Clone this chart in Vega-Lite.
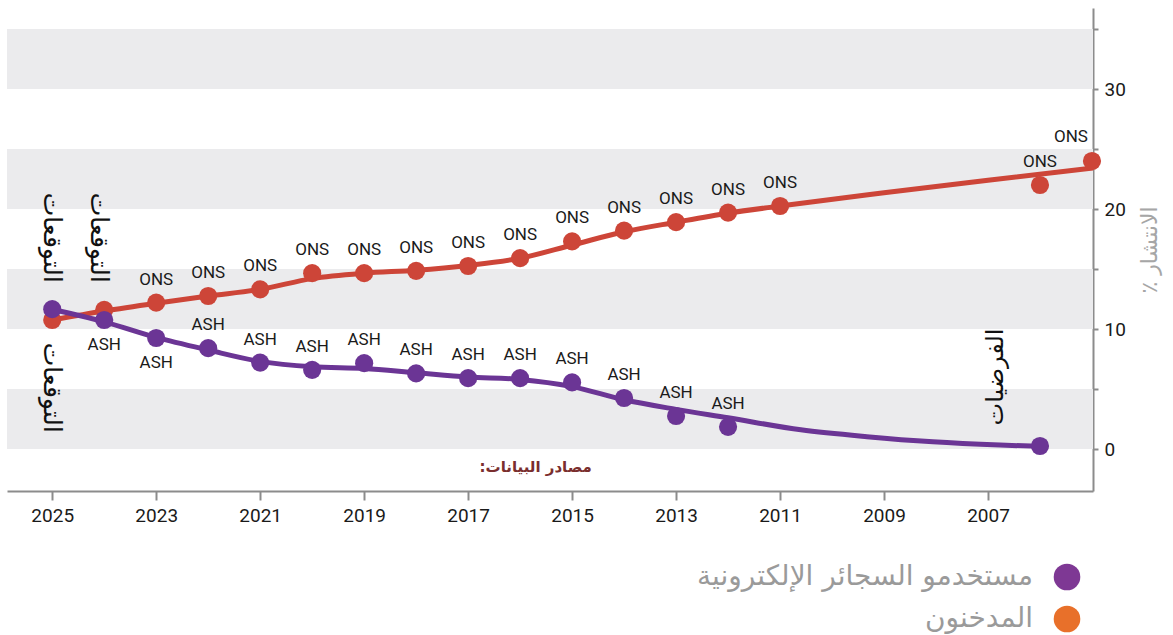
{
  "$schema": "https://vega.github.io/schema/vega-lite/v6.json",
  "width": 1086,
  "height": 483,
  "autosize": {"type": "none"},
  "padding": {"left": 7, "top": 8, "right": 80, "bottom": 144},
  "background": "white",
  "config": {"view": {"stroke": null}, "font": "Roboto"},
  "datasets": {
    "bands": [
      {"lo": 0, "hi": 5},
      {"lo": 10, "hi": 15},
      {"lo": 20, "hi": 25},
      {"lo": 30, "hi": 35}
    ],
    "legend": [
      {"series": "مستخدمو السجائر الإلكترونية", "year": 2015, "value": 10},
      {"series": "المدخنون", "year": 2015, "value": 10}
    ],
    "trend": [
      {"series": "المدخنون", "year": 2025, "value": 10.75},
      {"series": "المدخنون", "year": 2024, "value": 11.5},
      {"series": "المدخنون", "year": 2023, "value": 12.15},
      {"series": "المدخنون", "year": 2022, "value": 12.75},
      {"series": "المدخنون", "year": 2021, "value": 13.3},
      {"series": "المدخنون", "year": 2020, "value": 14.2},
      {"series": "المدخنون", "year": 2019, "value": 14.65},
      {"series": "المدخنون", "year": 2018, "value": 14.9},
      {"series": "المدخنون", "year": 2017, "value": 15.3},
      {"series": "المدخنون", "year": 2016, "value": 15.9},
      {"series": "المدخنون", "year": 2015, "value": 17.0},
      {"series": "المدخنون", "year": 2014, "value": 18.1},
      {"series": "المدخنون", "year": 2013, "value": 18.9},
      {"series": "المدخنون", "year": 2012, "value": 19.65},
      {"series": "المدخنون", "year": 2011, "value": 20.25},
      {"series": "المدخنون", "year": 2009, "value": 21.35},
      {"series": "المدخنون", "year": 2007, "value": 22.4},
      {"series": "المدخنون", "year": 2004.98, "value": 23.42},
      {"series": "مستخدمو السجائر الإلكترونية", "year": 2025, "value": 11.65},
      {"series": "مستخدمو السجائر الإلكترونية", "year": 2024, "value": 10.6},
      {"series": "مستخدمو السجائر الإلكترونية", "year": 2023, "value": 9.3},
      {"series": "مستخدمو السجائر الإلكترونية", "year": 2022, "value": 8.25},
      {"series": "مستخدمو السجائر الإلكترونية", "year": 2021, "value": 7.3},
      {"series": "مستخدمو السجائر الإلكترونية", "year": 2020, "value": 6.85},
      {"series": "مستخدمو السجائر الإلكترونية", "year": 2019, "value": 6.7},
      {"series": "مستخدمو السجائر الإلكترونية", "year": 2018, "value": 6.35},
      {"series": "مستخدمو السجائر الإلكترونية", "year": 2017, "value": 6.0},
      {"series": "مستخدمو السجائر الإلكترونية", "year": 2016, "value": 5.8},
      {"series": "مستخدمو السجائر الإلكترونية", "year": 2015, "value": 5.2},
      {"series": "مستخدمو السجائر الإلكترونية", "year": 2014, "value": 4.1},
      {"series": "مستخدمو السجائر الإلكترونية", "year": 2013, "value": 3.3},
      {"series": "مستخدمو السجائر الإلكترونية", "year": 2012, "value": 2.6},
      {"series": "مستخدمو السجائر الإلكترونية", "year": 2010.6, "value": 1.6},
      {"series": "مستخدمو السجائر الإلكترونية", "year": 2009.33, "value": 1.03},
      {"series": "مستخدمو السجائر الإلكترونية", "year": 2008.06, "value": 0.6},
      {"series": "مستخدمو السجائر الإلكترونية", "year": 2006.77, "value": 0.33},
      {"series": "مستخدمو السجائر الإلكترونية", "year": 2006, "value": 0.22}
    ],
    "points": [
      {"series": "المدخنون", "year": 2025, "value": 10.75, "source": "", "side": "none"},
      {"series": "المدخنون", "year": 2024, "value": 11.6, "source": "", "side": "none"},
      {"series": "المدخنون", "year": 2023, "value": 12.2, "source": "ONS", "side": "above"},
      {"series": "المدخنون", "year": 2022, "value": 12.75, "source": "ONS", "side": "above"},
      {"series": "المدخنون", "year": 2021, "value": 13.3, "source": "ONS", "side": "above"},
      {"series": "المدخنون", "year": 2020, "value": 14.65, "source": "ONS", "side": "above"},
      {"series": "المدخنون", "year": 2019, "value": 14.65, "source": "ONS", "side": "above"},
      {"series": "المدخنون", "year": 2018, "value": 14.85, "source": "ONS", "side": "above"},
      {"series": "المدخنون", "year": 2017, "value": 15.25, "source": "ONS", "side": "above"},
      {"series": "المدخنون", "year": 2016, "value": 15.9, "source": "ONS", "side": "above"},
      {"series": "المدخنون", "year": 2015, "value": 17.3, "source": "ONS", "side": "above"},
      {"series": "المدخنون", "year": 2014, "value": 18.2, "source": "ONS", "side": "above"},
      {"series": "المدخنون", "year": 2013, "value": 18.9, "source": "ONS", "side": "above"},
      {"series": "المدخنون", "year": 2012, "value": 19.7, "source": "ONS", "side": "above"},
      {"series": "المدخنون", "year": 2011, "value": 20.25, "source": "ONS", "side": "above"},
      {"series": "المدخنون", "year": 2006, "value": 22.0, "source": "ONS", "side": "above"},
      {"series": "المدخنون", "year": 2005, "value": 24.0, "source": "ONS", "side": "aboveleft"},
      {"series": "مستخدمو السجائر الإلكترونية", "year": 2025, "value": 11.65, "source": "", "side": "none"},
      {"series": "مستخدمو السجائر الإلكترونية", "year": 2024, "value": 10.75, "source": "ASH", "side": "below"},
      {"series": "مستخدمو السجائر الإلكترونية", "year": 2023, "value": 9.25, "source": "ASH", "side": "below"},
      {"series": "مستخدمو السجائر الإلكترونية", "year": 2022, "value": 8.4, "source": "ASH", "side": "above"},
      {"series": "مستخدمو السجائر الإلكترونية", "year": 2021, "value": 7.2, "source": "ASH", "side": "above"},
      {"series": "مستخدمو السجائر الإلكترونية", "year": 2020, "value": 6.6, "source": "ASH", "side": "above"},
      {"series": "مستخدمو السجائر الإلكترونية", "year": 2019, "value": 7.15, "source": "ASH", "side": "above"},
      {"series": "مستخدمو السجائر الإلكترونية", "year": 2018, "value": 6.3, "source": "ASH", "side": "above"},
      {"series": "مستخدمو السجائر الإلكترونية", "year": 2017, "value": 5.9, "source": "ASH", "side": "above"},
      {"series": "مستخدمو السجائر الإلكترونية", "year": 2016, "value": 5.9, "source": "ASH", "side": "above"},
      {"series": "مستخدمو السجائر الإلكترونية", "year": 2015, "value": 5.55, "source": "ASH", "side": "above"},
      {"series": "مستخدمو السجائر الإلكترونية", "year": 2014, "value": 4.25, "source": "ASH", "side": "above"},
      {"series": "مستخدمو السجائر الإلكترونية", "year": 2013, "value": 2.75, "source": "ASH", "side": "above"},
      {"series": "مستخدمو السجائر الإلكترونية", "year": 2012, "value": 1.85, "source": "ASH", "side": "above"},
      {"series": "مستخدمو السجائر الإلكترونية", "year": 2006, "value": 0.25, "source": "", "side": "none"}
    ],
    "notes": [
      {"kind": "forecast", "year": 2025, "value": 17.6, "text": "التوقعات"},
      {"kind": "forecast", "year": 2025, "value": 5.1, "text": "التوقعات"},
      {"kind": "forecast", "year": 2024.1, "value": 17.6, "text": "التوقعات"},
      {"kind": "assumption", "year": 2006.85, "value": 6.0, "text": "الفرضيات"},
      {"kind": "source", "year": 2015.7, "value": -1.5, "text": "\u200fمصادر البيانات:\u200f"}
    ]
  },
  "layer": [
    {
      "data": {"name": "bands"},
      "mark": {"type": "rect", "color": "#ebebed"},
      "encoding": {
        "y": {"field": "lo", "type": "quantitative"},
        "y2": {"field": "hi"}
      }
    },
    {
      "data": {"name": "trend"},
      "mark": {"type": "line", "strokeWidth": 5, "interpolate": "monotone"},
      "encoding": {
        "x": {
          "field": "year", "type": "quantitative",
          "scale": {"domain": [2004.98, 2025.87], "reverse": true, "nice": false, "zero": false},
          "axis": {
            "orient": "bottom", "title": null, "grid": false,
            "values": [2025, 2023, 2021, 2019, 2017, 2015, 2013, 2011, 2009, 2007],
            "format": "d",
            "labelFont": "Roboto", "labelFontSize": 19, "labelColor": "#1a1a1a",
            "labelPadding": 6,
            "domainColor": "#8c8c8c", "domainWidth": 2,
            "tickColor": "#8c8c8c", "tickWidth": 2, "tickSize": 9
          }
        },
        "y": {
          "field": "value", "type": "quantitative",
          "scale": {"domain": [-3.5, 36.75], "nice": false, "zero": false},
          "axis": {
            "orient": "right", "grid": false,
            "values": [0, 5, 10, 15, 20, 25, 30, 35],
            "labelExpr": "datum.value % 10 === 0 ? datum.label : ''",
            "labelFont": "Roboto", "labelFontSize": 19, "labelColor": "#1a1a1a",
            "labelPadding": 6,
            "domainColor": "#8c8c8c", "domainWidth": 2,
            "tickColor": "#8c8c8c", "tickWidth": 2, "tickSize": 5,
            "title": "\u200fالانتشار ٪\u200f",
            "titleAngle": 270,
            "titleFont": "DejaVu Sans", "titleFontSize": 22, "titleFontWeight": "normal",
            "titleColor": "#a6a6a6", "titlePadding": 36
          }
        },
        "color": {
          "field": "series", "type": "nominal",
          "scale": {
            "domain": ["المدخنون", "مستخدمو السجائر الإلكترونية"],
            "range": ["#cd4538", "#6b3595"]
          },
          "legend": null
        }
      }
    },
    {
      "data": {"name": "points"},
      "mark": {"type": "circle", "size": 330, "opacity": 1},
      "encoding": {
        "x": {"field": "year", "type": "quantitative"},
        "y": {"field": "value", "type": "quantitative"},
        "color": {"field": "series", "type": "nominal"}
      }
    },
    {
      "data": {"name": "legend"},
      "mark": {"type": "circle", "opacity": 0},
      "encoding": {
        "x": {"field": "year", "type": "quantitative"},
        "y": {"field": "value", "type": "quantitative"},
        "fill": {
          "field": "series", "type": "nominal",
          "scale": {
            "domain": ["مستخدمو السجائر الإلكترونية", "المدخنون"],
            "range": ["#7e3894", "#e8702a"]
          },
          "legend": {
            "orient": "none", "legendX": 1046, "legendY": 555,
            "title": null,
            "symbolType": "circle", "symbolSize": 707, "symbolStrokeWidth": 0, "symbolOpacity": 1,
            "labelAlign": "right", "labelOffset": -48, "labelLimit": 400,
            "labelFont": "DejaVu Sans", "labelFontSize": 28, "labelColor": "#9a9a9a",
            "rowPadding": 14
          }
        }
      }
    },
    {
      "data": {"name": "points"},
      "transform": [{"filter": "datum.side === 'above'"}],
      "mark": {"type": "text", "font": "Roboto", "fontSize": 17, "color": "#1a1a1a", "baseline": "middle", "dy": -23},
      "encoding": {
        "x": {"field": "year", "type": "quantitative"},
        "y": {"field": "value", "type": "quantitative"},
        "text": {"field": "source"}
      }
    },
    {
      "data": {"name": "points"},
      "transform": [{"filter": "datum.side === 'aboveleft'"}],
      "mark": {"type": "text", "font": "Roboto", "fontSize": 17, "color": "#1a1a1a", "baseline": "middle", "align": "right", "dy": -24, "dx": -4},
      "encoding": {
        "x": {"field": "year", "type": "quantitative"},
        "y": {"field": "value", "type": "quantitative"},
        "text": {"field": "source"}
      }
    },
    {
      "data": {"name": "points"},
      "transform": [{"filter": "datum.side === 'below'"}],
      "mark": {"type": "text", "font": "Roboto", "fontSize": 17, "color": "#1a1a1a", "baseline": "middle", "dy": 25},
      "encoding": {
        "x": {"field": "year", "type": "quantitative"},
        "y": {"field": "value", "type": "quantitative"},
        "text": {"field": "source"}
      }
    },
    {
      "data": {"name": "notes"},
      "transform": [{"filter": "datum.kind === 'forecast'"}],
      "mark": {"type": "text", "font": "DejaVu Sans", "fontSize": 25, "color": "#111111", "angle": 90, "align": "center", "baseline": "middle"},
      "encoding": {
        "x": {"field": "year", "type": "quantitative"},
        "y": {"field": "value", "type": "quantitative"},
        "text": {"field": "text"}
      }
    },
    {
      "data": {"name": "notes"},
      "transform": [{"filter": "datum.kind === 'assumption'"}],
      "mark": {"type": "text", "font": "DejaVu Sans", "fontSize": 24, "color": "#111111", "angle": 270, "align": "center", "baseline": "middle"},
      "encoding": {
        "x": {"field": "year", "type": "quantitative"},
        "y": {"field": "value", "type": "quantitative"},
        "text": {"field": "text"}
      }
    },
    {
      "data": {"name": "notes"},
      "transform": [{"filter": "datum.kind === 'source'"}],
      "mark": {"type": "text", "font": "DejaVu Sans", "fontSize": 15, "fontWeight": "bold", "color": "#7a2e2e", "align": "center", "baseline": "middle"},
      "encoding": {
        "x": {"field": "year", "type": "quantitative"},
        "y": {"field": "value", "type": "quantitative"},
        "text": {"field": "text"}
      }
    }
  ]
}
